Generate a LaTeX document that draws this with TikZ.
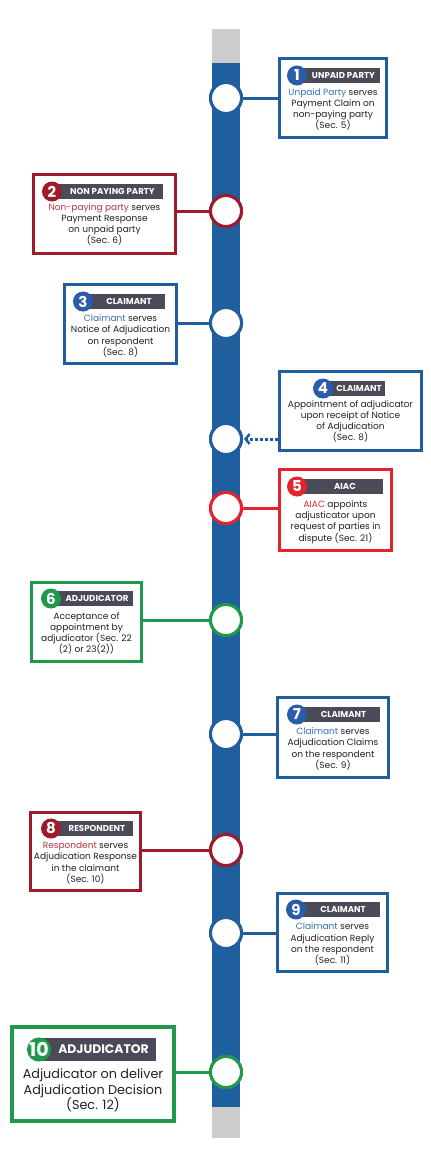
\documentclass[tikz,border=0pt]{standalone}
\usepackage{fontspec}
\setmainfont{Poppins}
\usetikzlibrary{arrows.meta}
\definecolor{spblue}{HTML}{1F5F9F}
\definecolor{numblue}{HTML}{2A5CAA}
\definecolor{wblue}{HTML}{3470B8}
\definecolor{dred}{HTML}{9E1B2C}
\definecolor{wred}{HTML}{B43444}
\definecolor{bred}{HTML}{E5232E}
\definecolor{grn}{HTML}{1E9A4A}
\definecolor{hdrgray}{HTML}{4B4A58}
\definecolor{endgray}{HTML}{CCCCCC}
\definecolor{txt}{HTML}{222222}
\newcommand{\hdrrow}[7]{%
  \fill[hdrgray] (#2,#3-7.5) rectangle (#4,#3+7.5);
  \node[numdot=#5] (#1n) at (#2,#3) {#6};
  \node[hlabel] (#1h) at ({(#2+10+#4)/2},#3) {#7};
}
\begin{document}
\begin{tikzpicture}[x=1pt,y=-1pt,
  spot/.style={circle, draw=#1, fill=white, line width=3pt, minimum size=31pt, inner sep=0pt},
  card/.style={draw=#1, fill=white, line width=3pt, inner sep=0pt},
  conn/.style={draw=#1, line width=3pt},
  numdot/.style={circle, fill=#1, minimum size=20pt, inner sep=0pt, text=white, font=\bfseries\fontsize{15}{15}\selectfont},
  hlabel/.style={text=white, font=\bfseries\fontsize{8.6}{9}\selectfont, inner sep=0pt},
  body/.style={align=center, font=\fontsize{9}{11.2}\selectfont, inner sep=0pt, text=txt},
  dotarrow/.style={draw=spblue, line width=3pt, dash pattern=on 3pt off 2pt, -{Straight Barb[length=4pt,width=10pt,line width=2.5pt]}}
]
\useasboundingbox (0,0) rectangle (431,1168);
\fill[white] (0,0) rectangle (431,1168);
% spine
\fill[endgray] (212,29) rectangle (240,1138);
\fill[spblue] (212,63) rectangle (240,1107);
% spine points
\node[spot=spblue] (sp1) at (226,98) {};
\node[spot=dred] (sp2) at (226,211) {};
\node[spot=spblue] (sp3) at (226,323) {};
\node[spot=spblue] (sp4) at (226,439) {};
\node[spot=bred] (sp5) at (226,508) {};
\node[spot=grn] (sp6) at (226,620) {};
\node[spot=spblue] (sp7) at (226,734) {};
\node[spot=dred] (sp8) at (226,850) {};
\node[spot=spblue] (sp9) at (226,933) {};
\node[spot=grn] (sp10) at (226,1072) {};
% cards
\node[card=spblue, minimum width=107pt, minimum height=79pt] (b1) at (333,98) {};
\node[card=dred, minimum width=142pt, minimum height=79pt] (b2) at (104.5,214) {};
\node[card=spblue, minimum width=112pt, minimum height=79pt] (b3) at (120.5,324) {};
\node[card=spblue, minimum width=142pt, minimum height=79pt] (b4) at (350.5,411) {};
\node[card=bred, minimum width=112pt, minimum height=81pt] (b5) at (335.5,510) {};
\node[card=grn, minimum width=110pt, minimum height=79pt] (b6) at (86.5,622) {};
\node[card=spblue, minimum width=111pt, minimum height=80pt] (b7) at (333,737.5) {};
\node[card=dred, minimum width=110pt, minimum height=78pt] (b8) at (85.5,851.5) {};
\node[card=spblue, minimum width=110pt, minimum height=78pt] (b9) at (332.5,932.5) {};
\node[card=grn, line width=3.5pt, minimum width=162pt, minimum height=94pt] (b10) at (93,1074) {};
% connectors
\draw[conn=spblue] (sp1) -- (sp1 -| b1.west);
\draw[conn=dred] (sp2) -- (sp2 -| b2.east);
\draw[conn=spblue] (sp3) -- (sp3 -| b3.east);
\draw[dotarrow, shorten >=1pt] (sp4 -| b4.west) -- (sp4);
\draw[conn=bred] (sp5) -- (sp5 -| b5.west);
\draw[conn=grn] (sp6) -- (sp6 -| b6.east);
\draw[conn=spblue] (sp7) -- (sp7 -| b7.west);
\draw[conn=dred] (sp8) -- (sp8 -| b8.east);
\draw[conn=spblue] (sp9) -- (sp9 -| b9.west);
\draw[conn=grn] (sp10) -- (sp10 -| b10.east);
% redraw spine points on top
\node[spot=spblue] at (sp1) {};
\node[spot=dred] at (sp2) {};
\node[spot=spblue] at (sp3) {};
\node[spot=spblue] at (sp4) {};
\node[spot=bred] at (sp5) {};
\node[spot=grn] at (sp6) {};
\node[spot=spblue] at (sp7) {};
\node[spot=dred] at (sp8) {};
\node[spot=spblue] at (sp9) {};
\node[spot=grn] at (sp10) {};
% headers
\hdrrow{h1}{297}{75.5}{380}{numblue}{1}{UNPAID PARTY}
\hdrrow{h2}{52}{191.5}{163}{dred}{2}{NON PAYING PARTY}
\hdrrow{h3}{83}{301.5}{165}{numblue}{3}{CLAIMANT}
\hdrrow{h4}{323}{388.5}{385}{numblue}{4}{CLAIMANT}
\hdrrow{h5}{297}{486.5}{383}{bred}{5}{AIAC}
\hdrrow{h6}{51}{598.5}{133}{grn}{6}{ADJUDICATOR}
\hdrrow{h7}{297}{714.5}{380}{numblue}{7}{CLAIMANT}
\hdrrow{h8}{51}{828.5}{133}{dred}{8}{RESPONDENT}
\hdrrow{h9}{296}{909.5}{380}{numblue}{9}{CLAIMANT}
\fill[hdrgray] (39,1038) rectangle (156,1061);
\node[numdot=grn, minimum size=24pt, font=\bfseries\fontsize{19}{19}\selectfont] (h10n) at (39,1049.5) {10};
\node[hlabel, font=\bfseries\fontsize{12.4}{13}\selectfont] (h10h) at (103.5,1049.5) {ADJUDICATOR};
% body texts
\node[body] (t1) at (333,109.5) {{\color{wblue}Unpaid Party} serves\\Payment Claim on\\non-paying party\\(Sec. 5)};
\node[body] (t2) at (104.5,224.5) {{\color{wred}Non-paying party} serves\\Payment Response\\on unpaid party\\(Sec. 6)};
\node[body] (t3) at (120.5,336) {{\color{wblue}Claimant} serves\\Notice of Adjudication\\on respondent\\(Sec. 8)};
\node[body] (t4) at (350.5,421.5) {Appointment of adjudicator\\upon receipt of Notice\\of Adjudication\\(Sec. 8)};
\node[body] (t5) at (335.5,522) {{\color{bred}AIAC} appoints\\adjusticator upon\\request of parties in\\dispute (Sec. 21)};
\node[body] (t6) at (86.5,633.5) {Acceptance of\\appointment by\\adjudicator (Sec. 22\\(2) or 23(2))};
\node[body] (t7) at (333,749) {{\color{wblue}Claimant} serves\\Adjudication Claims\\on the respondent\\(Sec. 9)};
\node[body] (t8) at (85.5,863) {{\color{wred}Respondent} serves\\Adjudication Response\\in the claimant\\(Sec. 10)};
\node[body] (t9) at (332.5,944) {{\color{wblue}Claimant} serves\\Adjudication Reply\\on the respondent\\(Sec. 11)};
\node[body, font=\fontsize{12.8}{15.5}\selectfont] (t10) at (93,1090.5) {Adjudicator on deliver\\Adjudication Decision\\(Sec. 12)};
\end{tikzpicture}
\end{document}
